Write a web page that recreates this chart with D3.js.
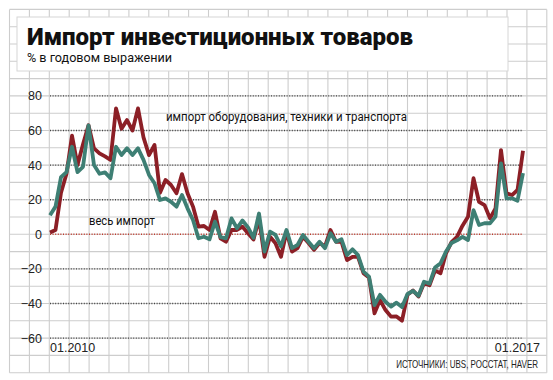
<!DOCTYPE html>
<html><head><meta charset="utf-8">
<script src="https://cdn.jsdelivr.net/npm/d3@7"></script>
<style>html,body{margin:0;padding:0;background:#fff;}svg{display:block;}</style>
</head><body>
<script>
// Data, monthly 01.2010 – 01.2017
const equipmentImport = [1,2.5,24,35,57,40,52,63,49.7,46.8,45,43,72.8,61,66,60,72.8,56,45.8,51.6,24,31.4,28.5,23.7,34.8,23.7,16,4.4,4.8,2.5,13,-2.3,-4.3,2.5,2.5,4.4,0.6,-3,9,-13,-1.4,-5.2,-13,1.5,-10,-8,-1.4,-5,-9,-5,-7,2.5,-4.3,-4.3,-14.9,-13,-13,-22.5,-25,-45.7,-38,-43.8,-47.6,-47.5,-49.9,-35,-32.5,-36,-28.3,-29.5,-21,-22.5,-11,-4.5,-1.5,5,10.2,32.4,18.8,16.9,9.2,15,48.7,23.7,22.7,25.6,48.3];
const totalImport = [11,16,33,36,50.6,36,39,63,40,35,35.8,32.4,50.6,45.8,49.7,45.8,49.7,43,34.3,29.5,19.8,20.8,18.8,16,22.7,15,8.3,-2.3,-1.4,-2.9,7.3,-1.7,-2.3,9.2,3.5,8,4,-2,12,-10,1.5,-0.4,-7,2.5,-8,-6.2,-0.4,-4.3,-8,-4.3,-8,0.6,-4.3,-2.9,-12,-8.7,-12,-21.6,-24.5,-40.9,-35,-39,-41.8,-39.5,-42,-34.5,-32.7,-35.5,-27.4,-28.5,-19.2,-16.8,-10,-5,-3.5,-1.5,-3.3,14,5.4,6.4,6.4,10.2,41,20.8,20.8,19.4,35.3];
const yTicks = [80,60,40,20,0,-20,-40,-60];
const xTickLabels = ["01.2010","01.2017"];
const title = "Импорт инвестиционных товаров";
const subtitle = "% в годовом выражении";
const labelEquip = "импорт оборудования, техники и транспорта";
const labelTotal = "весь импорт";
const source = "ИСТОЧНИКИ: UBS, РОССТАТ, HAVER";

const W = 553, H = 380;
const svg = d3.select("body").append("svg").attr("width", W).attr("height", H);

const n = equipmentImport.length;
const x = d3.scaleLinear().domain([0, n - 1]).range([50, 523]);
const y = d3.scaleLinear().domain([-80, 130]).range([372.7, 9.4]);

// graph-paper grid
const gridColor = "#cdcdcd";
const gx0 = 9.5, gx1 = 546.8;
svg.append("g").selectAll("line").data(d3.range(-80, 131, 10)).join("line")
  .attr("x1", gx0).attr("x2", gx1)
  .attr("y1", d => y(d)).attr("y2", d => y(d))
  .attr("stroke", gridColor).attr("stroke-width", 1.1);
svg.append("g").selectAll("line").data(d3.range(0, 28)).join("line")
  .attr("x1", i => gx0 + i * 19.9).attr("x2", i => gx0 + i * 19.9)
  .attr("y1", y(130)).attr("y2", y(-80))
  .attr("stroke", gridColor).attr("stroke-width", 1.1);

// title box
svg.append("rect").attr("x", 17).attr("y", 17).attr("width", 491).attr("height", 54)
  .attr("fill", "#fff").attr("stroke", "#d6d6d6").attr("stroke-width", 1);
svg.append("text").attr("x", 27).attr("y", 45).text(title)
  .attr("font-family", "Roboto, 'Noto Sans', sans-serif").attr("font-weight", 900)
  .attr("font-size", 23).attr("fill", "#111")
  .attr("textLength", 386).attr("lengthAdjust", "spacingAndGlyphs");
svg.append("text").attr("x", 27).attr("y", 62).text(subtitle)
  .attr("font-family", "Roboto, 'Noto Sans', sans-serif").attr("font-weight", 400)
  .attr("font-size", 13).attr("fill", "#111")
  .attr("textLength", 145).attr("lengthAdjust", "spacingAndGlyphs");

// dotted value lines
svg.append("g").selectAll("line").data(yTicks).join("line")
  .attr("x1", 50).attr("x2", 523)
  .attr("y1", d => y(d)).attr("y2", d => y(d))
  .attr("stroke", d => d === 0 ? "#c0392b" : "#444")
  .attr("stroke-width", 1.4).attr("stroke-dasharray", "1,1.6");

// y axis labels via d3 axis
const yAxis = d3.axisLeft(y).tickValues(yTicks).tickSize(0).tickPadding(0).tickFormat(d3.format("d"));
const ga = svg.append("g").attr("transform", "translate(42,0)").call(yAxis);
ga.select(".domain").remove();
ga.selectAll("text").attr("font-family", "'Liberation Sans', Arial, sans-serif")
  .attr("font-size", 12.5).attr("fill", "#222");

// x labels
svg.append("text").attr("x", x(0)).attr("y", 352).text(xTickLabels[0])
  .attr("font-family", "'Liberation Sans', Arial, sans-serif").attr("font-size", 12.5).attr("fill", "#222");
svg.append("text").attr("x", 540).attr("y", 352).attr("text-anchor", "end").text(xTickLabels[1])
  .attr("font-family", "'Liberation Sans', Arial, sans-serif").attr("font-size", 12.5).attr("fill", "#222");

// source (condensed horizontally to fit)
const src = svg.append("text").attr("text-anchor", "end").text(source)
  .attr("font-family", "'Liberation Sans', Arial, sans-serif").attr("font-size", 10).attr("fill", "#222");
const srcLen = src.node().getComputedTextLength();
src.attr("transform", `translate(538,367.5) scale(${(142 / srcLen).toFixed(3)},1)`);

// lines
const line = d3.line().x((d, i) => x(i)).y(d => y(d));
svg.append("path").datum(equipmentImport).attr("d", line)
  .attr("fill", "none").attr("stroke", "#8c1f26").attr("stroke-width", 3.8)
  .attr("stroke-linejoin", "round");
svg.append("path").datum(totalImport).attr("d", line)
  .attr("fill", "none").attr("stroke", "#3e7f74").attr("stroke-width", 3.8)
  .attr("stroke-linejoin", "round");

// annotations
svg.append("text").attr("x", 166).attr("y", 121).text(labelEquip)
  .attr("font-family", "Roboto, 'Noto Sans', sans-serif").attr("font-size", 12).attr("fill", "#111")
  .attr("textLength", 241).attr("lengthAdjust", "spacingAndGlyphs");
svg.append("text").attr("x", 89).attr("y", 225).text(labelTotal)
  .attr("font-family", "Roboto, 'Noto Sans', sans-serif").attr("font-size", 12).attr("fill", "#111")
  .attr("textLength", 66).attr("lengthAdjust", "spacingAndGlyphs");
</script>
</body></html>
